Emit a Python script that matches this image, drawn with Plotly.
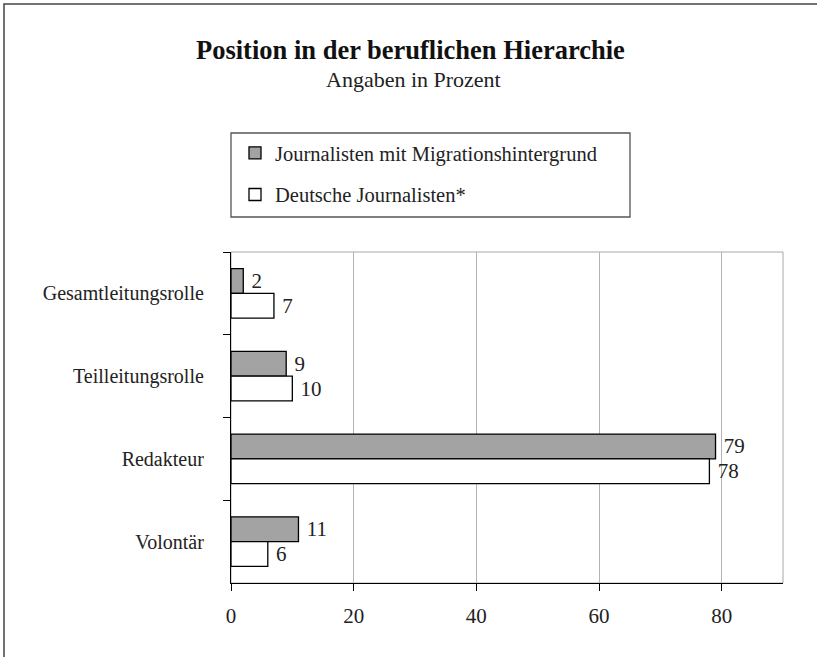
import plotly.graph_objects as go

categories = ["Gesamtleitungsrolle", "Teilleitungsrolle", "Redakteur", "Volontär"]
migration = [2, 9, 79, 11]
deutsche = [7, 10, 78, 6]
series_names = ["Journalisten mit Migrationshintergrund", "Deutsche Journalisten*"]
x_ticks = [0, 20, 40, 60, 80]

FONT = "Liberation Serif, Times New Roman, serif"
W, H = 817, 657
L, R, T, B = 231, 34, 252, 74
pw, ph = W - L - R, H - T - B

def px_x(p):
    return (p - L) / pw

def px_y(p):
    return 1 - (p - T) / ph

fig = go.Figure()
fig.add_trace(go.Bar(
    y=categories, x=migration, orientation="h", name=series_names[0],
    marker=dict(color="#a3a3a3", line=dict(color="black", width=1.3)),
    texttemplate=" %{x}", textposition="outside", constraintext="none",
    textfont=dict(family=FONT, size=21, color="#222"), cliponaxis=False,
    legendgroup="a",
))
fig.add_trace(go.Bar(
    y=categories, x=deutsche, orientation="h", name=series_names[1],
    marker=dict(color="white", line=dict(color="black", width=1.3)),
    texttemplate=" %{x}", textposition="outside", constraintext="none",
    textfont=dict(family=FONT, size=21, color="#222"), cliponaxis=False,
    legendgroup="b",
))

fig.update_layout(
    width=W, height=H,
    margin=dict(l=L, r=R, t=T, b=B, autoexpand=False),
    paper_bgcolor="white", plot_bgcolor="white",
    barmode="group", bargap=0.4, bargroupgap=0,
    font=dict(family=FONT, size=20, color="#222"),
    showlegend=True,
    legend=dict(
        x=px_x(235), y=px_y(133), xanchor="left", yanchor="top",
        bgcolor="rgba(0,0,0,0)", borderwidth=0,
        font=dict(family=FONT, size=20.5, color="#222"),
        tracegroupgap=12, traceorder="grouped",
    ),
    xaxis=dict(
        range=[0, 90], tickvals=x_ticks, showgrid=True, gridcolor="#b4b4b4", gridwidth=1,
        zeroline=False, showline=True, linecolor="black", linewidth=1.3,
        ticks="outside", ticklen=7, tickcolor="black", tickwidth=1,
        tickfont=dict(family=FONT, size=21, color="#222"), ticklabelstandoff=7,
    ),
    yaxis=dict(
        autorange="reversed", type="category", showgrid=False, zeroline=False,
        showline=True, linecolor="black", linewidth=1.3,
        ticks="outside", ticklen=7, tickcolor="black", tickwidth=1, tickson="boundaries",
        tickfont=dict(family=FONT, size=20, color="#222"), ticklabelstandoff=22,
    ),
    shapes=[
        dict(type="rect", xref="paper", yref="paper", x0=0, x1=1, y0=0, y1=1,
             line=dict(color="#a8a8a8", width=1), layer="below"),
        dict(type="rect", xref="paper", yref="paper", x0=px_x(231), x1=px_x(630),
             y0=px_y(217), y1=px_y(133), line=dict(color="#555", width=1.3)),
        dict(type="rect", xref="paper", yref="paper", x0=px_x(4), x1=px_x(840),
             y0=px_y(680), y1=px_y(4), line=dict(color="#444", width=1.5)),
    ],
    annotations=[
        dict(text="<b>Position in der beruflichen Hierarchie</b>", xref="paper", yref="paper",
             x=px_x(410), y=px_y(50), xanchor="center", yanchor="middle", showarrow=False,
             font=dict(family=FONT, size=26.5, color="#111")),
        dict(text="Angaben in Prozent", xref="paper", yref="paper",
             x=px_x(413), y=px_y(80), xanchor="center", yanchor="middle", showarrow=False,
             font=dict(family=FONT, size=22, color="#222")),
    ],
)

fig.write_html(
    "out.html",
    config={"displayModeBar": False},
    post_script="document.body.style.margin='0px';document.body.style.overflow='hidden';",
)
